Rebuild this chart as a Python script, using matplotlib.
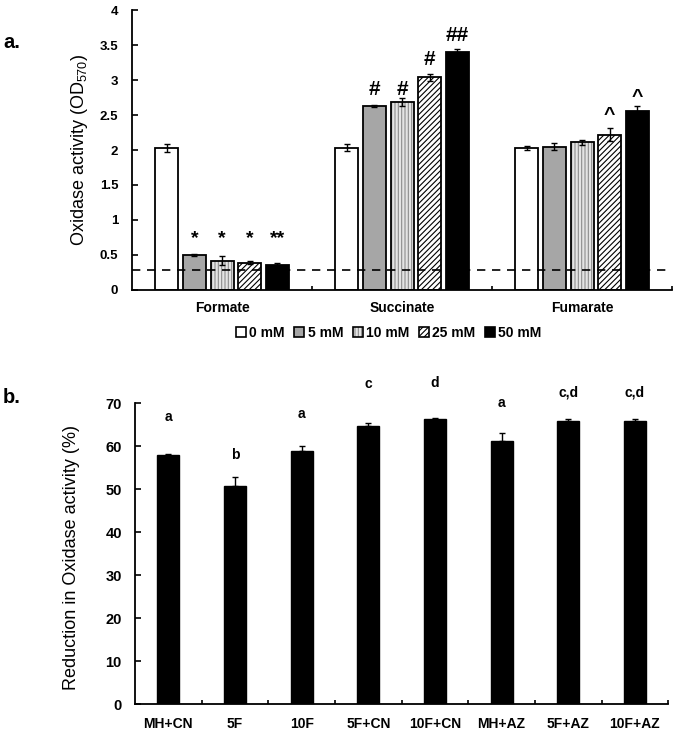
import numpy as np
import matplotlib
matplotlib.use("Agg")
import matplotlib.pyplot as plt
from matplotlib.patches import Patch

plt.rcParams['font.family'] = ['Liberation Sans', 'DejaVu Sans']
plt.rcParams['mathtext.fontset'] = 'custom'
plt.rcParams['mathtext.rm'] = 'Liberation Sans'
plt.rcParams['mathtext.default'] = 'regular'
plt.rcParams['hatch.linewidth'] = 0.8

# ---- panel a data ----
substrates = ['Formate', 'Succinate', 'Fumarate']
conc_labels = ['0 mM', '5 mM', '10 mM', '25 mM', '50 mM']
# rows = concentration, cols = substrate
activity = [
    [2.03, 2.03, 2.03],
    [0.50, 2.63, 2.05],
    [0.42, 2.69, 2.11],
    [0.39, 3.04, 2.22],
    [0.36, 3.40, 2.56],
]
activity_err = [
    [0.06, 0.05, 0.03],
    [0.01, 0.02, 0.05],
    [0.07, 0.06, 0.04],
    [0.02, 0.05, 0.09],
    [0.02, 0.05, 0.07],
]
baseline_od = 0.28
# significance marks: (substrate idx, conc idx, text, y)
marks_a = [
    (0, 1, '*', 0.67), (0, 2, '*', 0.67), (0, 3, '*', 0.67), (0, 4, '**', 0.67),
    (1, 1, '#', 2.79), (1, 2, '#', 2.79), (1, 3, '#', 3.21), (1, 4, '##', 3.56),
    (2, 3, '^', 2.43), (2, 4, '^', 2.69),
]

# ---- panel b data ----
treatments = ['MH+CN', '5F', '10F', '5F+CN', '10F+CN', 'MH+AZ', '5F+AZ', '10F+AZ']
reduction = [57.9, 50.7, 58.8, 64.6, 66.2, 61.2, 65.7, 65.9]
reduction_err = [0.2, 2.2, 1.1, 0.8, 0.2, 1.9, 0.5, 0.4]
letters = ['a', 'b', 'a', 'c', 'd', 'a', 'c,d', 'c,d']
letter_y = [65.8, 56.9, 66.4, 73.6, 73.8, 69.1, 71.4, 71.4]

# bar styles per concentration
faces = ['white', '#a6a6a6', '#e4e4e4', 'white', 'black']
hatches = [None, None, '|||||', '//////', None]
hatch_cols = ['black', 'black', '#8c8c8c', 'black', 'black']

fig = plt.figure(figsize=(6.75, 7.31), dpi=100)
ax1 = fig.add_axes([0.1956, 0.6033, 0.8, 0.3830])
ax2 = fig.add_axes([0.2, 0.0369, 0.790, 0.4118])

x = np.arange(len(substrates))
step = 0.154
width = 0.128
handles = []
for k in range(len(conc_labels)):
    pos = x + (k - 2) * step
    if hatches[k]:
        ax1.bar(pos, activity[k], width, color=faces[k], hatch=hatches[k],
                edgecolor=hatch_cols[k], linewidth=0, zorder=2)
    else:
        ax1.bar(pos, activity[k], width, color=faces[k], linewidth=0, zorder=2)
    ax1.bar(pos, activity[k], width, fill=False, edgecolor='black',
            linewidth=1.3, zorder=3)
    ax1.errorbar(pos, activity[k], yerr=activity_err[k], fmt='none',
                 ecolor='black', elinewidth=1, capsize=2.5, capthick=1, zorder=4)
    hp = Patch(facecolor=faces[k], hatch=hatches[k], edgecolor=hatch_cols[k], linewidth=0)
    op = Patch(fill=False, edgecolor='black', linewidth=1.2)
    handles.append((hp, op))

ax1.axhline(baseline_od, color='black', lw=1.2, ls=(0, (5, 4)), zorder=5)

for si, ci, txt, yy in marks_a:
    ax1.text(x[si] + (ci - 2) * step, yy, txt, ha='center', va='baseline',
             fontsize=15 if '#' in txt else 14, fontweight='bold')

ax1.set_xlim(-0.5, 2.5)
ax1.set_ylim(0, 4)
ax1.set_yticks(np.arange(0, 4.01, 0.5))
ax1.set_yticklabels(['0', '0.5', '1', '1.5', '2', '2.5', '3', '3.5', '4'])
ax1.set_xticks([0.5, 1.5, 2.5])
ax1.set_xticklabels([])
ax1.set_xticks(x, minor=True)
ax1.set_xticklabels(substrates, minor=True)
ax1.tick_params(axis='x', which='major', direction='in', length=3, width=1.2)
ax1.tick_params(axis='x', which='minor', length=0, pad=8, labelsize=10)
ax1.tick_params(axis='y', direction='in', length=4, width=1.2, pad=10, labelsize=9.5)

fig.legend(handles, conc_labels, loc='center', bbox_to_anchor=(0.576, 0.5445),
           ncol=5, frameon=False, handlelength=0.7, handleheight=0.7,
           handletextpad=0.25, columnspacing=0.7,
           prop={'weight': 'bold', 'size': 10})

# ---- panel b ----
xb = np.arange(len(treatments))
ax2.bar(xb, reduction, 0.33, color='black', edgecolor='black', linewidth=1, zorder=2)
ax2.errorbar(xb, reduction, yerr=[np.zeros(len(reduction)), reduction_err], fmt='none',
             ecolor='black', elinewidth=1, capsize=2.5, capthick=1, zorder=3)
for i, (t, yy) in enumerate(zip(letters, letter_y)):
    ax2.text(xb[i], yy, t, ha='center', va='baseline', fontsize=10,
             fontweight='bold', clip_on=False)

ax2.set_xlim(-0.5, 7.5)
ax2.set_ylim(0, 70)
ax2.set_yticks(np.arange(0, 71, 10))
ax2.set_xticks(np.arange(0.5, 8, 1))
ax2.set_xticklabels([])
ax2.set_xticks(xb, minor=True)
ax2.set_xticklabels(treatments, minor=True)
ax2.tick_params(axis='x', which='major', direction='in', length=3, width=1.2)
ax2.tick_params(axis='x', which='minor', length=0, pad=9, labelsize=10)
ax2.tick_params(axis='y', direction='in', length=4, width=1.2, pad=9.5, labelsize=10.5)

for ax in (ax1, ax2):
    for s in ('top', 'right'):
        ax.spines[s].set_visible(False)
    for s in ('left', 'bottom'):
        ax.spines[s].set_linewidth(1.3)
    for lab in ax.get_xticklabels(which='both') + ax.get_yticklabels():
        lab.set_fontweight('bold')

fig.text(0.1185, 0.7948, 'Oxidase activity (OD$_{570}$)', rotation=90,
         ha='center', va='center', fontsize=13)
fig.text(0.106, 0.238, 'Reduction in Oxidase activity (%)', rotation=90,
         ha='center', va='center', fontsize=13)
fig.text(3 / 675, 1 - 48 / 731, 'a.', fontsize=14.5, fontweight='bold', va='baseline')
fig.text(3 / 675, 1 - 403 / 731, 'b.', fontsize=14.5, fontweight='bold', va='baseline')

fig.savefig('out.png', dpi=100)
